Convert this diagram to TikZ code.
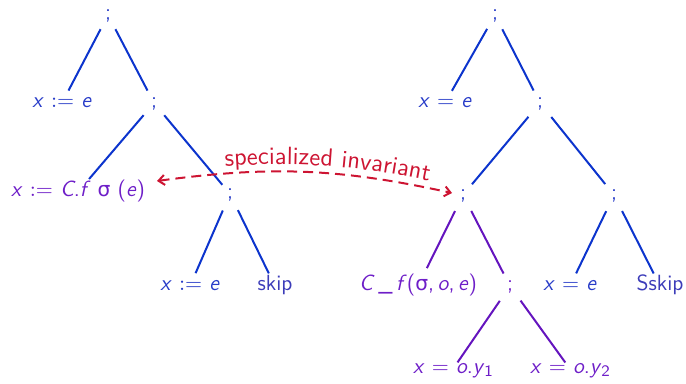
\documentclass[tikz,border=0pt]{standalone}
\usepackage{fontspec}
\newfontfamily\dvs{DejaVu Sans}[Scale=0.92]
\usetikzlibrary{arrows.meta,decorations.text}
\definecolor{lineblue}{RGB}{12,52,205}
\definecolor{textblue}{RGB}{40,60,200}
\definecolor{skipblue}{RGB}{60,60,185}
\definecolor{purp}{RGB}{110,30,200}
\definecolor{linepurp}{RGB}{100,20,190}
\definecolor{inred}{RGB}{205,20,50}
\newcommand\mi[1]{\textsl{#1}}
\newcommand\sg{{\dvs σ}}
\tikzset{
  tn/.style={inner sep=0pt, font=\sffamily\fontsize{11}{13}\selectfont, text height=1.6ex, text depth=.5ex, text=textblue},
  pn/.style={tn, text=purp},
  sk/.style={tn, text=skipblue},
  eb/.style={draw=lineblue, line width=1pt, shorten <=8pt, shorten >=7pt},
  ep/.style={draw=linepurp, line width=1pt, shorten <=8pt, shorten >=7pt},
}
\begin{document}
\begin{tikzpicture}[x=0.5pt,y=-0.5pt]
\useasboundingbox (0,0) rectangle (686,384);
% left tree
\node[tn] (rootL) at (108,15) {;};
\node[tn] (Lxe) at (62,103) {\mi{x} $:=$ \mi{e}};
\node[tn] (Ls1) at (154,103) {;};
\node[pn] (Lxc) at (78,192) {\mi{x} $:=$ \mi{C}.\mi{f} \sg{} (\mi{e})};
\node[tn] (Ls2) at (230,194) {;};
\node[tn] (Lxe2) at (190,286) {\mi{x} $:=$ \mi{e}};
\node[sk] (Lskip) at (275,286) {skip};
% right tree
\node[tn] (rootR) at (495,15) {;};
\node[tn] (Rxe) at (445,103) {\mi{x} $=$ \mi{e}};
\node[tn] (Rs1) at (540,103) {;};
\node[tn] (Rs2) at (463,195) {;};
\node[tn] (Rs3) at (614,195) {;};
\node[pn] (Rcf) at (418,286) {\mi{C}\,\_\,\mi{f}(\sg,\,\mi{o},\,\mi{e})};
\node[pn] (Rs4) at (510,286) {;};
\node[tn] (Rxe2) at (570,286) {\mi{x} $=$ \mi{e}};
\node[sk] (Rss) at (660,286) {Sskip};
\node[pn] (Ry1) at (453,369) {\mi{x} $=$ \mi{o}.\mi{y}{\fontsize{8}{9}\selectfont\raisebox{-0.45ex}{1}}};
\node[pn] (Ry2) at (570,369) {\mi{x} $=$ \mi{o}.\mi{y}{\fontsize{8}{9}\selectfont\raisebox{-0.45ex}{2}}};
% edges
\draw[eb] (rootL.center) -- (Lxe.center);
\draw[eb] (rootL.center) -- (Ls1.center);
\draw[eb, shorten >=8.5pt] (Ls1.center) -- (Lxc.center);
\draw[eb, shorten >=6pt] (Ls1.center) -- (Ls2.center);
\draw[eb, shorten <=9pt] (Ls2.center) -- (Lxe2.center);
\draw[eb, shorten <=9pt] (Ls2.center) -- (Lskip.center);
\draw[eb] (rootR.center) -- (Rxe.center);
\draw[eb] (rootR.center) -- (Rs1.center);
\draw[eb, shorten <=9pt] (Rs1.center) -- (Rs2.center);
\draw[eb, shorten <=9pt] (Rs1.center) -- (Rs3.center);
\draw[ep, shorten <=9pt, shorten >=10pt] (Rs2.center) -- (Rcf.center);
\draw[ep, shorten <=9pt] (Rs2.center) -- (Rs4.center);
\draw[eb, shorten <=9pt] (Rs3.center) -- (Rxe2.center);
\draw[eb, shorten <=9pt] (Rs3.center) -- (Rss.center);
\draw[ep, shorten <=9pt, shorten >=4pt] (Rs4.center) -- (Ry1.center);
\draw[ep, shorten <=9pt, shorten >=4pt] (Rs4.center) -- (Ry2.center);
% invariant arrow
\coordinate (aL) at (157,181);
\coordinate (aR) at (452,193);
\draw[inred, line width=1pt, dash pattern=on 5pt off 3pt, {Straight Barb[length=3pt,width=5pt]}-{Straight Barb[length=3pt,width=5pt]}] (aL) to[bend left=10] (aR);
\path[decorate, decoration={text along path, text align={center, left indent=22pt}, raise=3.5pt, text color=inred,
  text={|\sffamily\fontsize{12.5}{15}\selectfont|specialized invariant}}] (aL) to[bend left=10] (aR);
\end{tikzpicture}
\end{document}
